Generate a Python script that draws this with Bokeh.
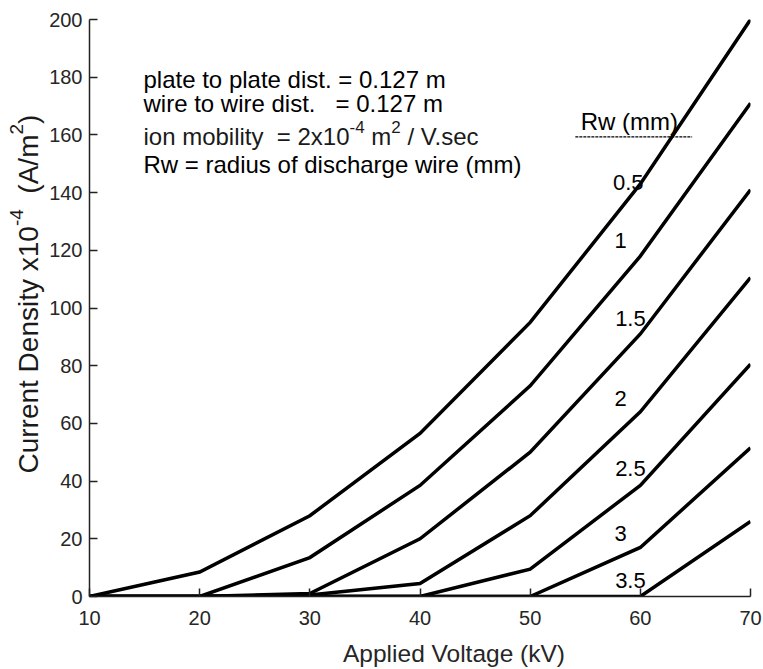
import math
from bokeh.plotting import figure
from bokeh.models import Range1d, Label
from bokeh.layouts import row
from bokeh.embed import file_html
from bokeh.resources import INLINE
from bokeh.core.properties import value

# Applied voltage (kV)
voltage = [10, 20, 30, 40, 50, 60, 70]

# Current density x1e-4 A/m^2 for each discharge-wire radius
rw_labels = ["0.5", "1", "1.5", "2", "2.5", "3", "3.5"]
j_rw05 = [0, 8.5, 28, 56.5, 95, 143, 200]
j_rw1 = [0, 0, 13.5, 38.5, 73, 118, 171]
j_rw15 = [0, 0, 1, 20, 50, 91, 141]
j_rw2 = [0, 0, 0.5, 4.5, 28, 64, 110.5]
j_rw25 = [0, 0, 0, 0, 9.5, 38.5, 80.5]
j_rw3 = [0, 0, 0, 0, 0, 17, 51.5]
j_rw35 = [0, 0, 0, 0, 0, 0, 26]
series = [j_rw05, j_rw1, j_rw15, j_rw2, j_rw25, j_rw3, j_rw35]

# where each radius label sits (data units)
label_x = [58.9, 58.2, 59.1, 58.2, 59.1, 58.2, 59.1]
label_y = [143.5, 123.5, 96.5, 68.5, 44.5, 22, 5.5]

FONT = "Liberation Sans"
INK = "#1a1a1a"
NB = "\u00a0"

# advance widths of Liberation Sans glyphs (per em), used to chain text runs
_W = {" ": .278, NB: .278, "(": .333, ")": .333, "/": .278, ".": .278, "-": .333,
      "=": .584, "x": .5, "A": .667, "C": .722, "D": .722, "R": .722, "V": .667,
      "a": .556, "c": .5, "e": .556, "i": .222, "l": .222, "m": .833, "n": .556,
      "o": .556, "r": .333, "s": .5, "t": .278, "u": .556, "y": .5}


def text_width(s, size):
    return sum(_W.get(ch, .556) for ch in s) * size


def rich_label(plot, x, y, runs, size, sup_size, rise, angle=0.0):
    """Text with superscripts. runs = [(text, is_sup), ...]; the first run is
    right-aligned so that the following runs butt against its end."""
    ca, sa = math.cos(angle), math.sin(angle)
    adv = text_width(runs[0][0], size)
    plot.add_layout(Label(x=x, y=y, x_offset=adv * ca, y_offset=adv * sa,
                          text=runs[0][0], angle=angle, text_font=FONT,
                          text_font_size=f"{size}px", text_color=INK,
                          text_align="right", text_baseline="alphabetic"))
    for txt, sup in runs[1:]:
        fs = sup_size if sup else size
        up = rise if sup else 0.0
        plot.add_layout(Label(x=x, y=y, x_offset=adv * ca - up * sa,
                              y_offset=adv * sa + up * ca, text=txt, angle=angle,
                              text_font=FONT, text_font_size=f"{fs}px",
                              text_color=INK, text_align="left",
                              text_baseline="alphabetic"))
        adv += text_width(txt, fs)


# ---- main chart ----
p = figure(width=718, height=669, output_backend="svg", toolbar_location=None,
           x_range=Range1d(10, 70), y_range=Range1d(0, 200))
p.min_border_left = 44
p.min_border_right = 13
p.min_border_top = 19
p.min_border_bottom = 71
p.outline_line_color = None
p.xgrid.grid_line_color = None
p.ygrid.grid_line_color = None
p.background_fill_color = "white"
p.border_fill_color = "white"

for ax in (p.xaxis, p.yaxis):
    ax.major_tick_in = 8
    ax.major_tick_out = 0
    ax.minor_tick_line_color = None
    ax.axis_line_color = "#222222"
    ax.axis_line_width = 1.5
    ax.major_tick_line_color = "#222222"
    ax.major_tick_line_width = 1.5
    ax.major_label_text_font = FONT
    ax.major_label_text_font_size = "20px"
    ax.major_label_text_color = "#262626"

p.xaxis.ticker = voltage
p.yaxis.ticker = list(range(0, 201, 20))
p.xaxis.major_label_standoff = 14
p.yaxis.major_label_standoff = 7
p.xaxis.axis_label = NB * 10 + "Applied Voltage (kV)"
p.xaxis.axis_label_text_font = FONT
p.xaxis.axis_label_text_font_style = "normal"
p.xaxis.axis_label_text_font_size = "24.5px"
p.xaxis.axis_label_text_color = "#262626"
p.xaxis.axis_label_standoff = 12

for ys in series:
    p.line(voltage, ys, line_color="black", line_width=3.5, line_join="miter")

p.text(x=label_x, y=label_y, text=rw_labels, text_font=value(FONT),
       text_font_size="22px", text_color="black",
       text_align="center", text_baseline="middle")

# header for the radius labels
p.add_layout(Label(x=59.0, y=164.5, text="Rw (mm)", text_font=FONT,
                   text_font_size="24px", text_color="black",
                   text_align="center", text_baseline="middle"))
p.segment(x0=[54.1], y0=[159.3], x1=[64.7], y1=[159.3],
          line_color="black", line_width=1.2, line_dash="3 1")

# parameter notes
notes = [
    ("plate to plate dist. = 0.127 m", 179.3),
    ("wire to wire dist." + NB * 3 + "= 0.127 m", 171.0),
    ("Rw = radius of discharge wire (mm)", 149.8),
]
for txt, yy in notes:
    p.add_layout(Label(x=14.9, y=yy, text=txt, text_font=FONT,
                       text_font_size="24px", text_color="black",
                       text_align="left", text_baseline="middle"))
rich_label(p, 14.9, 159.4,
           [("ion mobility" + NB * 2 + "= 2x10", False), ("-4", True),
            (NB + "m", False), ("2", True), (NB + "/ V.sec", False)],
           size=24, sup_size=17, rise=10)

# ---- y-axis title strip: frame pinned to the strip, 1 data unit = 1 px ----
side = figure(frame_width=45, frame_height=669, output_backend="svg",
              toolbar_location=None, title=None,
              x_range=Range1d(0, 45), y_range=Range1d(0, 669),
              min_border=0, x_axis_type=None, y_axis_type=None)
side.min_border_left = side.min_border_right = 0
side.min_border_top = side.min_border_bottom = 0
side.outline_line_color = None
side.xgrid.grid_line_color = None
side.ygrid.grid_line_color = None
side.background_fill_color = "white"
side.border_fill_color = "white"
rich_label(side, 28, 215,
           [("Current Density x10", False), ("-4", True),
            (NB * 2 + "(A/m", False), ("2", True), (")", False)],
           size=28, sup_size=19, rise=12, angle=math.pi / 2)

open("out.html", "w").write(file_html(row(side, p), INLINE))
